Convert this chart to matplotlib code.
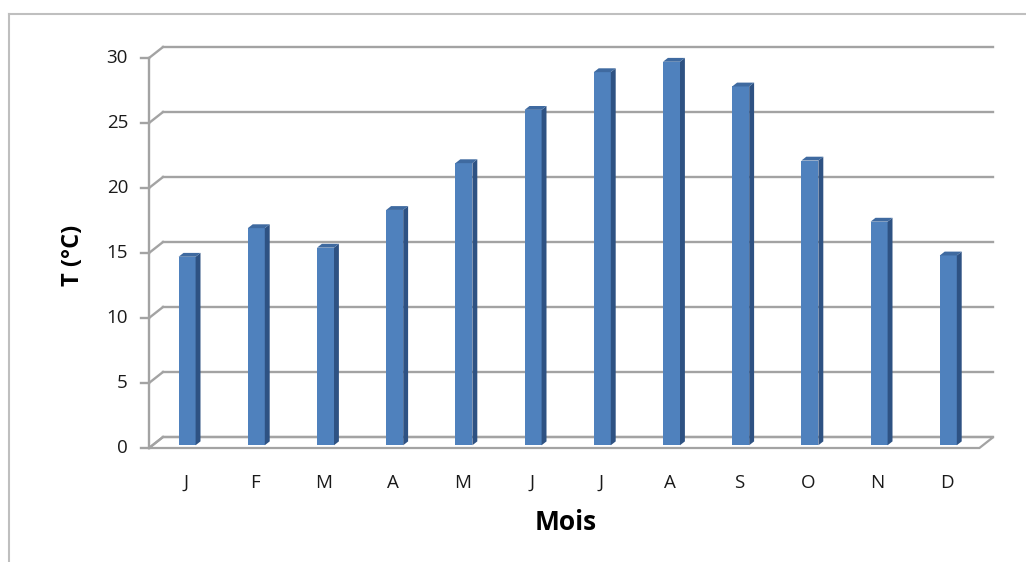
import matplotlib
matplotlib.use('Agg')
import matplotlib.pyplot as plt
from matplotlib.patches import Polygon
from matplotlib.lines import Line2D
import numpy as np

mois = ['J', 'F', 'M', 'A', 'M', 'J', 'J', 'A', 'S', 'O', 'N', 'D']
temp = [14.5, 16.7, 15.2, 18.1, 21.7, 25.8, 28.7, 29.5, 27.6, 21.9, 17.2, 14.6]
yticks = [0, 5, 10, 15, 20, 25, 30]

plt.rcParams['font.family'] = ['Open Sans', 'DejaVu Sans']

W, H = 1026, 562
fig = plt.figure(figsize=(W / 100, H / 100), dpi=100)
ax = fig.add_axes([0, 0, 1, 1])

# pixel mapping: x = category index, y = temperature
px_cat = 69.2
px_val = 13.0
x0_px = 183.6
y0_px = 448
ax.set_xlim((0 - x0_px) / px_cat, (W - x0_px) / px_cat)
ax.set_ylim((y0_px - H) / px_val, y0_px / px_val)
ax.axis('off')

# depth offset of the 3D box
dx = 14 / px_cat
dy = 11 / px_val
grid_col = '#A3A3A3'
xl, xr = -0.5, len(mois) - 0.5

# floor
floor = Polygon([(xl, 0), (xr, 0), (xr + dx, dy), (xl + dx, dy)],
                closed=True, facecolor='white', edgecolor=grid_col, lw=1.6, zorder=1)
ax.add_patch(floor)

# back wall gridlines + left wall diagonals
for t in yticks:
    ax.plot([xl + dx, xr + dx], [t + dy, t + dy], color=grid_col, lw=1.7, zorder=1)
    ax.plot([xl, xl + dx], [t, t + dy], color=grid_col, lw=1.7, zorder=1)
    ax.plot([xl - 8 / px_cat, xl], [t, t], color=grid_col, lw=1.7, zorder=1)
    ax.text(xl - 21 / px_cat, t, str(t), ha='right', va='center', fontsize=13.5,
            color='#1a1a1a')

ax.plot([xl, xl], [0, yticks[-1]], color=grid_col, lw=1.7, zorder=1)

# bars
f1, f2 = 0.25, 0.6
w = 17 / px_cat
x = np.arange(len(mois))
xf = x + f1 * dx
bf = f1 * dy
ax.bar(xf, temp, width=w, bottom=bf, color='#4F81BD', edgecolor='none', zorder=3)
ddx = (f2 - f1) * dx
ddy = (f2 - f1) * dy
for xi, v in zip(xf, temp):
    r = xi + w / 2
    l = xi - w / 2
    side = Polygon([(r, bf), (r + ddx, bf + ddy), (r + ddx, bf + v + ddy), (r, bf + v)],
                   closed=True, facecolor='#2E5283', edgecolor='none', zorder=3)
    top = Polygon([(l, bf + v), (r, bf + v), (r + ddx, bf + v + ddy), (l + ddx, bf + v + ddy)],
                  closed=True, facecolor='#3F6AA0', edgecolor='none', zorder=3)
    ax.add_patch(side)
    ax.add_patch(top)

for xi, m in zip(x, mois):
    ax.text(xi + 2 / px_cat, (y0_px - 483) / px_val, m, ha='center', va='center',
            fontsize=13.5, color='#1a1a1a')

ax.text((566 - x0_px) / px_cat, (y0_px - 523) / px_val, 'Mois', ha='center', va='center',
        fontsize=19, fontweight='bold')
ax.text((73 - x0_px) / px_cat, (y0_px - 255) / px_val, 'T (°C)', ha='center', va='center',
        fontsize=17, fontweight='bold', rotation=90)

# chart area frame
fig.add_artist(Line2D([9 / W, 9 / W], [1 - 14 / H, 0], color='#BFBFBF', lw=1.5))
fig.add_artist(Line2D([9 / W, 1], [1 - 14 / H, 1 - 14 / H], color='#BFBFBF', lw=1.5))

fig.savefig('out.png', dpi=100)
